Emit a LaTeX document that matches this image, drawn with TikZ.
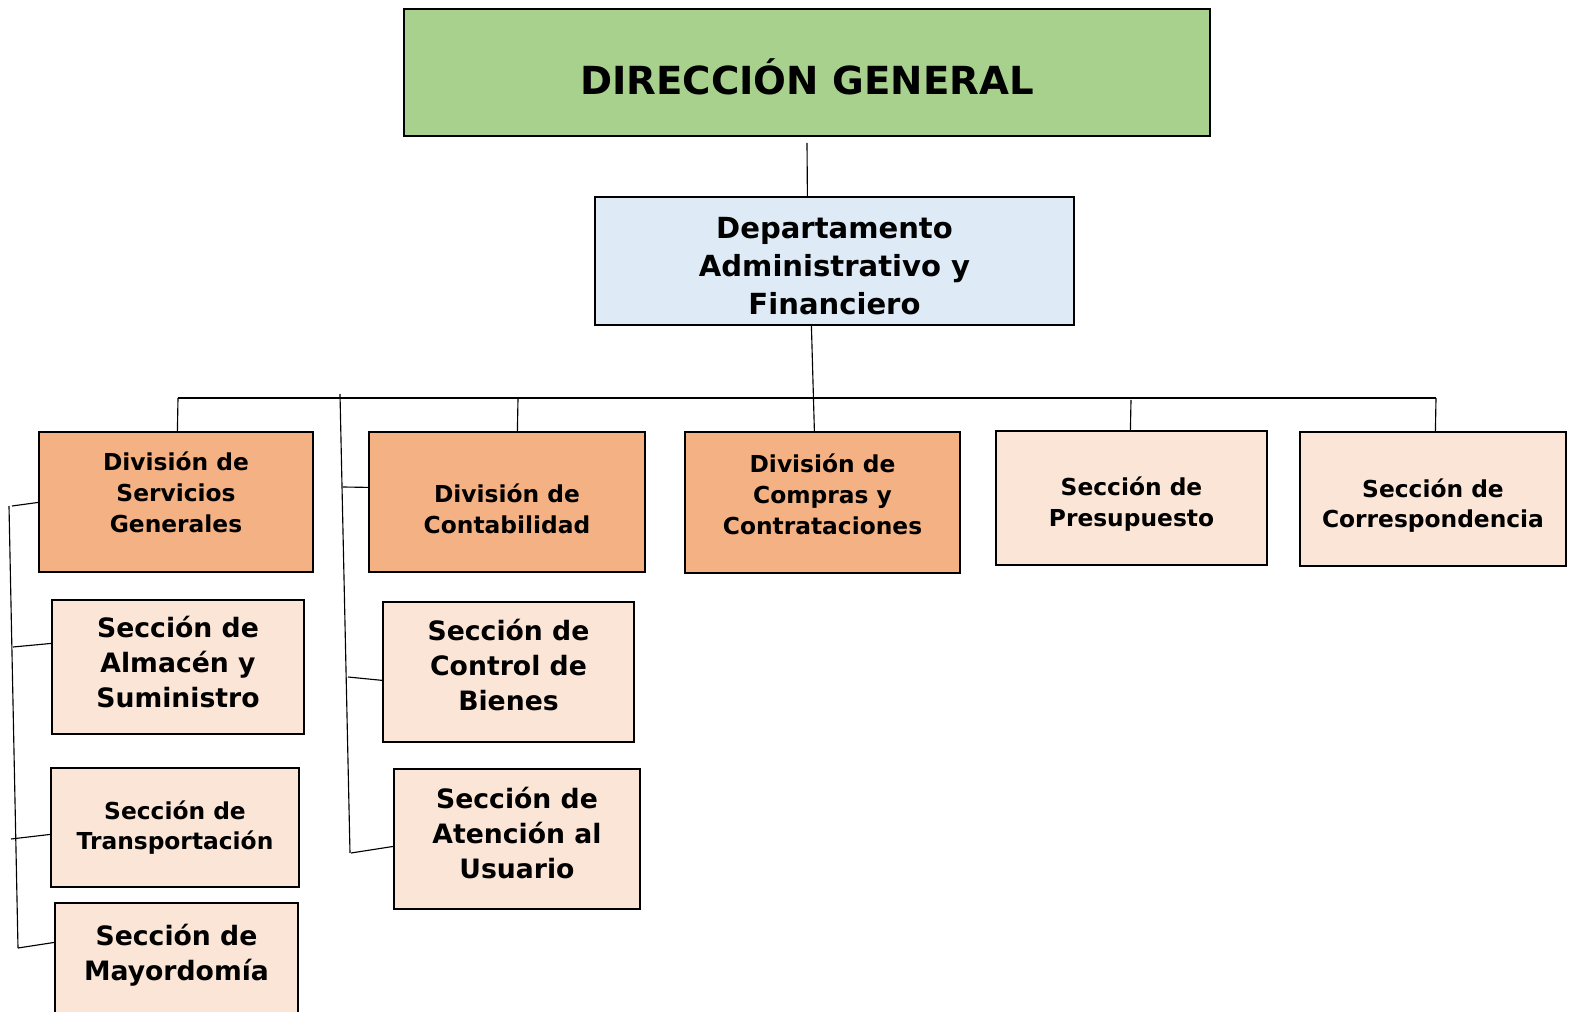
\documentclass[tikz,border=0pt]{standalone}
\usepackage{fontspec}
\setmainfont{DejaVu Sans}
\usetikzlibrary{calc}
\definecolor{dggreen}{HTML}{A9D18E}
\definecolor{dafblue}{HTML}{DEEBF7}
\definecolor{divorange}{HTML}{F4B183}
\definecolor{secpeach}{HTML}{FBE5D6}
\tikzset{
  box/.style 2 args={draw=black, line width=0.9pt, inner sep=0pt, align=center,
    minimum width=#1*0.75pt, minimum height=#2*0.75pt},
  dgtext/.style={font=\fontsize{29}{34}\selectfont\bfseries},
  daftext/.style={font=\fontsize{21.8}{28.5}\selectfont\bfseries},
  divtext/.style={font=\fontsize{17.5}{23.25}\selectfont\bfseries},
  secbig/.style={font=\fontsize{20}{26}\selectfont\bfseries},
  secsmall/.style={font=\fontsize{17.5}{22.7}\selectfont\bfseries},
  conn/.style={draw=black, line width=0.85pt},
}
\begin{document}
\begin{tikzpicture}[x=0.75pt, y=-0.75pt]
\useasboundingbox (0,0) rectangle (1571,1012);
\clip (0,0) rectangle (1571,1012);
\fill[white] (0,0) rectangle (1571,1012);

% boxes
\node[box={806}{127}, fill=dggreen, dgtext] (dg) at (807,72.5) {\mbox{}\\[-1.3pt]DIRECCIÓN GENERAL};
\node[box={479}{128}, fill=dafblue, daftext] (daf) at (834.5,261) {\mbox{}\\[-5pt]Departamento\\Administrativo y\\Financiero};
\node[box={274}{140}, fill=divorange, divtext] (divsg) at (176,502) {División de\\Servicios\\Generales\\[-8pt]\mbox{}};
\node[box={276}{140}, fill=divorange, divtext] (divcont) at (507,502) {\mbox{}\\[1.5pt]División de\\Contabilidad};
\node[box={275}{141}, fill=divorange, divtext] (divcomp) at (822.5,502.5) {División de\\Compras y\\Contrataciones\\[-11pt]\mbox{}};
\node[box={271}{134}, fill=secpeach, secsmall] (presup) at (1131.5,498) {\mbox{}\\[0.6pt]Sección de\\Presupuesto};
\node[box={266}{134}, fill=secpeach, secsmall] (corresp) at (1433,499) {\mbox{}\\[1.4pt]Sección de\\Correspondencia};
\node[box={252}{134}, fill=secpeach, secbig] (almacen) at (178,667) {Sección de\\Almacén y\\Suministro\\[-18pt]\mbox{}};
\node[box={248}{119}, fill=secpeach, secsmall] (transport) at (175,827.5) {Sección de\\Transportación};
\node[box={243}{127}, fill=secpeach, secbig] (mayor) at (176.5,966.5) {Sección de\\Mayordomía\\[-4.5pt]\mbox{}};
\node[box={251}{140}, fill=secpeach, secbig] (control) at (508.5,672) {Sección de\\Control de\\Bienes\\[-15pt]\mbox{}};
\node[box={246}{140}, fill=secpeach, secbig] (atencion) at (517,839) {Sección de\\Atención al\\Usuario\\[-16.5pt]\mbox{}};

% coordinates
\coordinate (t1) at (807,143);
\coordinate (b1) at (178,398);
\coordinate (b2) at (1436,398);
\coordinate (b3) at (518,398);
\coordinate (b4) at (1131,400);
\coordinate (s1) at (9,506);
\coordinate (s4) at (18,948);
\coordinate (j1) at (12,506);
\coordinate (j2) at (13,647);
\coordinate (j3) at (11,839);
\coordinate (m1) at (340,394);
\coordinate (m4) at (350,853);
\coordinate (k1) at (343,487);
\coordinate (k2) at (348,677);
\coordinate (k3) at (351,853);

% top connectors
\draw[conn] (t1) -- ($(daf.north west)+(213,0)$);
\draw[conn] ($(daf.south west)+(217,0)$) -- ($(divcomp.north west)+(130,0)$);

% bus and drops
\draw[conn] (b1) -- (b2);
\draw[conn] (b1) -- ($(divsg.north west)+(139,0)$);
\draw[conn] (b3) -- ($(divcont.north west)+(149,0)$);
\draw[conn] (b4) -- ($(presup.north west)+(135,0)$);
\draw[conn] (b2) -- ($(corresp.north west)+(136,0)$);

% left spine
\draw[conn] (s1) -- (s4);
\draw[conn] (j1) -- ($(divsg.north west)+(0,71)$);
\draw[conn] (j2) -- ($(almacen.north west)+(0,44)$);
\draw[conn] (j3) -- ($(transport.north west)+(0,67)$);
\draw[conn] (s4) -- ($(mayor.north west)+(0,40)$);

% middle spine
\draw[conn] (m1) -- (m4);
\draw[conn] (k1) -- ($(divcont.north west)+(0,56)$);
\draw[conn] (k2) -- ($(control.north west)+(0,79)$);
\draw[conn] (k3) -- ($(atencion.north west)+(0,78)$);
\end{tikzpicture}
\end{document}
